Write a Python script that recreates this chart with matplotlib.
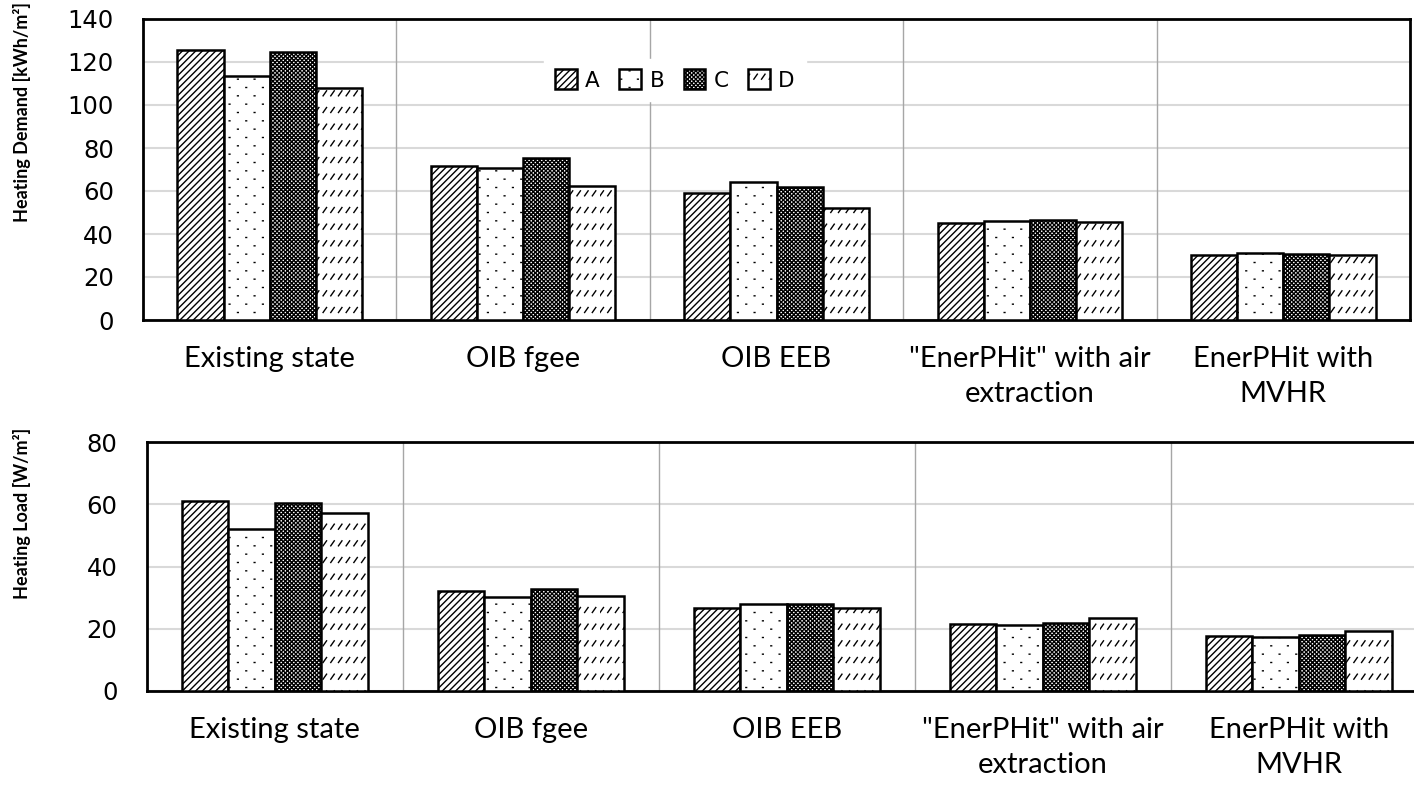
import warnings
warnings.filterwarnings("ignore")
import numpy as np
import matplotlib
matplotlib.use("Agg")
import matplotlib.pyplot as plt
import matplotlib.hatch as mhatch
from matplotlib.path import Path
from matplotlib.patches import Patch

# ---------------- data ----------------
categories = ["Existing state", "OIB fgee", "OIB EEB",
              "\"EnerPHit\" with air\nextraction", "EnerPHit with\nMVHR"]
series = ["A", "B", "C", "D"]
demand_A = [125.7, 71.8, 59.1, 45.2, 30.0]
demand_B = [113.6, 70.9, 64.3, 46.1, 31.1]
demand_C = [124.8, 75.5, 61.8, 46.6, 30.6]
demand_D = [107.8, 62.3, 52.2, 45.5, 30.1]
load_A = [61.1, 32.0, 26.8, 21.4, 17.7]
load_B = [52.1, 30.1, 27.8, 21.1, 17.2]
load_C = [60.5, 32.7, 27.9, 22.0, 17.9]
load_D = [57.1, 30.6, 26.6, 23.3, 19.3]
demand_ticks = [0, 20, 40, 60, 80, 100, 120, 140]
load_ticks = [0, 20, 40, 60, 80]
ylabel_top = "Heating Demand [kWh/m²]"
ylabel_bottom = "Heating Load [W/m²]"


# ---------------- custom hatches ----------------
class SlashRows(mhatch.HatchPatternBase):
    """rows of short slanted dashes (key 'O')"""
    def __init__(self, hatch, density):
        n = hatch.count('O')
        self.rows = 6 * n
        self.cols = 13 * n
        self.num_vertices = self.rows * self.cols * 2 if n else 0

    def set_vertices_and_codes(self, vertices, codes):
        k = 0
        dy = 1.0 / self.rows
        dx = 1.0 / self.cols
        for r in range(self.rows):
            y0 = r * dy + 0.25 * dy
            for c in range(self.cols):
                x0 = c * dx
                vertices[k] = (x0, y0)
                vertices[k + 1] = (x0 + 0.035, y0 + 0.05)
                codes[k] = Path.MOVETO
                codes[k + 1] = Path.LINETO
                k += 2


class SparseDots(mhatch.HatchPatternBase):
    """staggered sparse dots (key '*')"""
    def __init__(self, hatch, density):
        n = hatch.count('*')
        self.rows = 12 * n
        self.cols = 6 * n
        self.num_vertices = self.rows * self.cols * 2 if n else 0

    def set_vertices_and_codes(self, vertices, codes):
        k = 0
        dy = 1.0 / self.rows
        dx = 1.0 / self.cols
        for r in range(self.rows):
            off = 0.25 * dx if r % 2 == 0 else 0.75 * dx
            y0 = r * dy + 0.5 * dy
            for c in range(self.cols):
                x0 = c * dx + off
                vertices[k] = (x0, y0)
                vertices[k + 1] = (x0 + 0.008, y0)
                codes[k] = Path.MOVETO
                codes[k + 1] = Path.LINETO
                k += 2


mhatch._hatch_types[mhatch._hatch_types.index(mhatch.LargeCircles)] = SlashRows
mhatch._hatch_types[mhatch._hatch_types.index(mhatch.Stars)] = SparseDots

hatches = ["/////", "*", "xxxxxxxx", "O"]

plt.rcParams['hatch.linewidth'] = 1.0
plt.rcParams['font.family'] = ['DejaVu Sans']

fig = plt.figure(figsize=(14.14, 7.86), dpi=100)
W, H = 1414, 786


def make_axes(x0, x1, ytop, ybot):
    return fig.add_axes([x0 / W, 1 - ybot / H, (x1 - x0) / W, (ybot - ytop) / H])


ax1 = make_axes(143, 1410, 19, 320)
ax2 = make_axes(146.7, 146.7 + 5 * 256, 442, 691)

bw = 0.182
x = np.arange(len(categories))


def draw(ax, vals, ticks):
    for i, v in enumerate(vals):
        ax.bar(x + (i - 1.5) * bw, v, width=bw, facecolor='white',
               edgecolor='black', linewidth=1.8, hatch=hatches[i],
               zorder=3, label=series[i])
    ax.set_xlim(-0.5, len(categories) - 0.5)
    ax.set_ylim(ticks[0], ticks[-1])
    ax.set_yticks(ticks)
    ax.set_xticks(x)
    ax.set_xticklabels(categories, family='Lato', fontsize=21,
                       linespacing=1.42)
    ax.tick_params(axis='both', length=0)
    ax.tick_params(axis='y', pad=21, labelsize=17.5)
    ax.tick_params(axis='x', pad=18.5)
    ax.yaxis.grid(True, color='#d9d9d9', linewidth=1.5, zorder=0)
    for s in np.arange(0.5, len(categories) - 0.5, 1.0):
        ax.axvline(s, color='#a6a6a6', linewidth=1.0, zorder=1)
    for sp in ax.spines.values():
        sp.set_linewidth(2.0)
        sp.set_color('black')
    ax.set_axisbelow(True)


draw(ax1, [demand_A, demand_B, demand_C, demand_D], demand_ticks)
draw(ax2, [load_A, load_B, load_C, load_D], load_ticks)

fig.text(22 / W, 1 - 112 / H, ylabel_top, rotation=90, ha='center',
         va='center', family='Lato', fontweight='bold', fontsize=13)
fig.text(22 / W, 1 - 513 / H, ylabel_bottom, rotation=90, ha='center',
         va='center', family='Lato', fontweight='bold', fontsize=13)

handles = [Patch(facecolor='white', edgecolor='black', linewidth=1.8,
                 hatch=hatches[i]) for i in range(4)]
leg = fig.legend(handles, series, loc='center',
                 bbox_to_anchor=(675 / W, 1 - 80 / H), ncol=4,
                 frameon=True, fancybox=False, fontsize=15.5,
                 handlelength=1.0, handleheight=1.0, handletextpad=0.4,
                 columnspacing=0.9, borderpad=0.5)
leg.get_frame().set_facecolor('white')
leg.get_frame().set_edgecolor('white')
leg.get_frame().set_alpha(1)

fig.savefig("out.png", dpi=100)
